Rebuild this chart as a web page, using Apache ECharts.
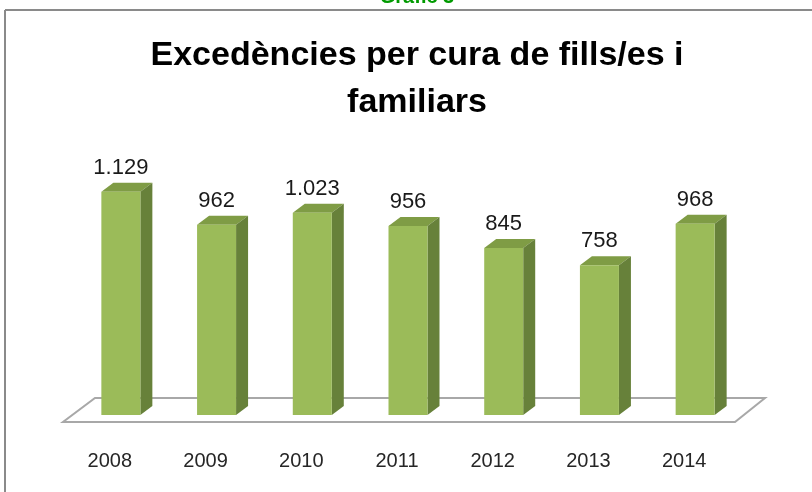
<!DOCTYPE html>
<html>
<head>
<meta charset="utf-8">
<script src="https://cdn.jsdelivr.net/npm/echarts@6/dist/echarts.min.js"></script>
<style>
  html, body { margin: 0; padding: 0; background: #fff; }
  #main { width: 812px; height: 492px; }
</style>
</head>
<body>
<div id="main"></div>
<script>
// dades del gràfic
var years = ['2008', '2009', '2010', '2011', '2012', '2013', '2014'];
var excedencies = [1129, 962, 1023, 956, 845, 758, 968];
var valueLabels = ['1.129', '962', '1.023', '956', '845', '758', '968'];

var chart = echarts.init(document.getElementById('main'));

// barres amb efecte 3D (cara frontal, lateral i superior)
function renderBar(params, api) {
  var i = api.value(0);
  var base = api.coord([i, 0]);
  var top = api.coord([i, api.value(1)]);
  var w = 39, dx = 12, dy = 9, shift = 11;
  var x0 = base[0] + shift - w / 2;
  var x1 = x0 + w;
  var yb = base[1], yt = top[1];
  return {
    type: 'group',
    children: [
      {
        type: 'polygon',
        shape: { points: [[x0, yt], [x1, yt], [x1 + dx, yt - dy], [x0 + dx, yt - dy]] },
        style: { fill: '#7f9c45' }
      },
      {
        type: 'polygon',
        shape: { points: [[x1, yt], [x1 + dx, yt - dy], [x1 + dx, yb - dy], [x1, yb]] },
        style: { fill: '#67813a' }
      },
      {
        type: 'rect',
        shape: { x: x0, y: yt, width: w, height: yb - yt },
        style: { fill: '#9bbb59' }
      },
      {
        type: 'text',
        style: {
          text: valueLabels[params.dataIndex],
          x: x0 + w / 2, y: yt - dy - 15,
          align: 'center', verticalAlign: 'middle',
          fontFamily: 'Liberation Sans', fontSize: 22, fill: '#1a1a1a'
        }
      }
    ]
  };
}

// terra del gràfic
function renderFloor(params, api) {
  var cs = params.coordSys;
  var zero = api.coord([0, 0])[1];
  var fy = zero + 7;
  var left = cs.x + 1, right = cs.x + cs.width + 3;
  return {
    type: 'polygon',
    shape: { points: [[left, fy], [right, fy], [right + 30, fy - 24], [left + 32, fy - 24]] },
    style: { fill: '#ffffff', stroke: '#a8a8a8', lineWidth: 2 },
    z2: 0
  };
}

var option = {
  animation: false,
  graphic: [
    {
      type: 'text', x: 417, y: -3,
      style: { text: 'Gràfic 3', align: 'center', verticalAlign: 'middle',
        fontFamily: 'Liberation Sans', fontWeight: 'bold', fontSize: 20, fill: '#009a00' }
    },
    { type: 'line', shape: { x1: 5, y1: 10, x2: 812, y2: 10 }, style: { stroke: '#8a8a8a', lineWidth: 2 } },
    { type: 'line', shape: { x1: 5, y1: 10, x2: 5, y2: 492 }, style: { stroke: '#8a8a8a', lineWidth: 2 } },
    {
      type: 'text', x: 417, y: 32,
      style: {
        text: 'Excedències per cura de fills/es i\nfamiliars',
        align: 'center', verticalAlign: 'top', lineHeight: 47,
        fontFamily: 'Liberation Sans', fontWeight: 'bold', fontSize: 34, fill: '#000'
      }
    }
  ],
  grid: { left: 62, right: 80, top: 158, bottom: 77 },
  xAxis: {
    type: 'category',
    data: years,
    axisLine: { show: false },
    axisTick: { show: false },
    axisLabel: { margin: 36, fontFamily: 'Liberation Sans', fontSize: 20, color: '#262626' }
  },
  yAxis: {
    type: 'value', min: 0, max: 1300,
    show: false,
    splitLine: { show: false }
  },
  series: [
    {
      type: 'custom',
      renderItem: renderFloor,
      data: [[0, 0]],
      z: 1,
      silent: true
    },
    {
      type: 'custom',
      renderItem: renderBar,
      data: years.map(function (y, i) { return [i, excedencies[i]]; }),
      z: 2
    }
  ]
};

chart.setOption(option);
</script>
</body>
</html>
